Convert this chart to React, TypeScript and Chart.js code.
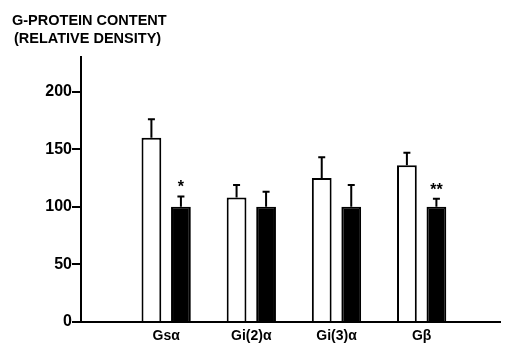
import React, { useEffect, useRef } from 'react';
import { Chart, registerables } from 'chart.js';

Chart.register(...registerables);

const categories = ['Gsα', 'Gi(2)α', 'Gi(3)α', 'Gβ'];
const controlValues = [160, 108, 125, 136];
const controlErrors = [16, 11, 18, 11];
const treatedValues = [100, 100, 100, 100];
const treatedErrors = [9, 13, 19, 7];
const significance = ['*', '', '', '**'];
const yTicks = [0, 50, 100, 150, 200];
const titleLines = ['G-PROTEIN CONTENT', '(RELATIVE DENSITY)'];

const FONT = '"Liberation Sans", Arial, Helvetica, sans-serif';

const errorBarPlugin = {
  id: 'errorBars',
  afterDatasetsDraw(chart: any) {
    const ctx = chart.ctx;
    const y = chart.scales.y;
    const errs = [controlErrors, treatedErrors];
    chart.data.datasets.forEach((ds: any, di: number) => {
      const meta = chart.getDatasetMeta(di);
      meta.data.forEach((bar: any, i: number) => {
        const v = ds.data[i].y;
        const top = y.getPixelForValue(v + errs[di][i]);
        const x = bar.x;
        const base = bar.y;
        ctx.save();
        ctx.strokeStyle = '#000';
        ctx.lineWidth = 2;
        ctx.beginPath();
        ctx.moveTo(x, base);
        ctx.lineTo(x, top);
        ctx.moveTo(x - 3.5, top);
        ctx.lineTo(x + 3.5, top);
        ctx.stroke();
        if (di === 1 && significance[i]) {
          ctx.fillStyle = '#000';
          ctx.font = `bold 16px ${FONT}`;
          ctx.textAlign = 'center';
          ctx.textBaseline = 'alphabetic';
          ctx.fillText(significance[i], x, top - 13 + 9);
        }
        ctx.restore();
      });
    });
  },
};

const titlePlugin = {
  id: 'topTitle',
  afterDraw(chart: any) {
    const ctx = chart.ctx;
    ctx.save();
    ctx.fillStyle = '#000';
    ctx.font = `bold 14.5px ${FONT}`;
    ctx.textAlign = 'left';
    ctx.textBaseline = 'alphabetic';
    ctx.fillText(titleLines[0], 12, 25);
    ctx.fillText(titleLines[1], 14, 43);
    ctx.restore();
  },
};

export default function App() {
  const ref = useRef<HTMLCanvasElement | null>(null);

  useEffect(() => {
    if (!ref.current) return;
    Chart.defaults.font.family = FONT;
    const chart = new Chart(ref.current, {
      type: 'bar',
      data: {
        datasets: [
          {
            label: 'Control',
            data: controlValues.map((v, i) => ({ x: i + 1, y: v })),
            backgroundColor: '#fff',
            borderColor: '#000',
            borderWidth: 2,
          },
          {
            label: 'Treated',
            data: treatedValues.map((v, i) => ({ x: i + 1, y: v })),
            backgroundColor: '#000',
            borderColor: '#000',
            borderWidth: 2,
          },
        ],
      },
      options: {
        animation: false,
        responsive: false,
        layout: { padding: { top: 57, right: 5, left: 0, bottom: 0 } },
        plugins: {
          legend: { display: false },
          tooltip: { enabled: false },
          title: { display: false },
        },
        datasets: { bar: { categoryPercentage: 0.693, barPercentage: 0.67 } } as any,
        scales: {
          x: {
            type: 'linear',
            min: 0,
            max: 4.92,
            offset: false,
            grid: { display: false, drawTicks: false },
            border: { display: true, color: '#000', width: 2 },
            afterBuildTicks: (s: any) => {
              s.ticks = categories.map((_, i) => ({ value: i + 1 }));
            },
            afterFit: (s: any) => {
              s.height = 22;
            },
            ticks: {
              autoSkip: false,
              maxRotation: 0,
              padding: 6,
              color: '#000',
              font: { size: 14, weight: 'bold' },
              callback: (v: any) => categories[Number(v) - 1] ?? '',
            },
          },
          y: {
            min: 0,
            max: 230,
            afterBuildTicks: (s: any) => {
              s.ticks = yTicks.map((v) => ({ value: v }));
            },
            afterFit: (s: any) => {
              s.width = 81;
            },
            grid: { drawOnChartArea: false, drawTicks: true, tickLength: 9, color: '#000', lineWidth: 2 },
            border: { color: '#000', width: 2 },
            ticks: { padding: 0, color: '#000', font: { size: 16, weight: 'bold' } },
          },
        } as any,
      },
      plugins: [errorBarPlugin, titlePlugin],
    } as any);
    return () => chart.destroy();
  }, []);

  return (
    <div style={{ position: 'fixed', left: 0, top: 0, width: 505, height: 344, background: '#fff' }}>
      <canvas ref={ref} width={505} height={344} />
    </div>
  );
}
